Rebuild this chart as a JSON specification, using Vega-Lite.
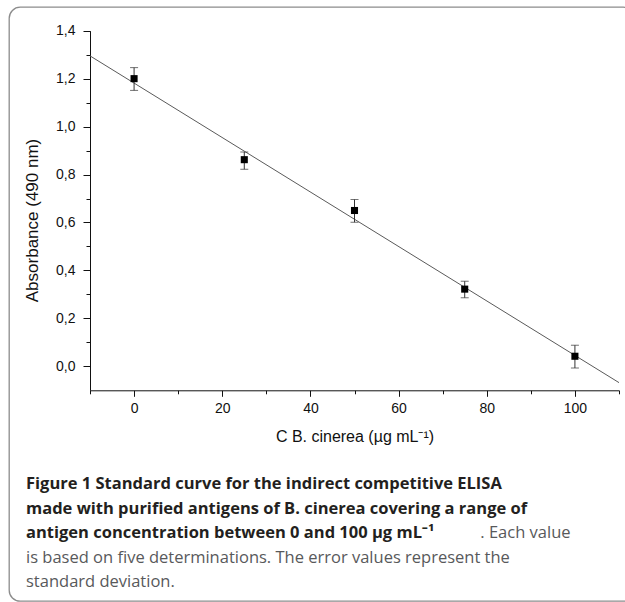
{
  "$schema": "https://vega.github.io/schema/vega-lite/v6.json",
  "autosize": {"type": "none"},
  "padding": {"left": 9, "top": 7, "right": -9, "bottom": 1},
  "width": 625,
  "height": 594,
  "background": "white",
  "config": {
    "view": {"stroke": "#8c8c8c", "strokeWidth": 1.3, "cornerRadius": 11},
    "font": "Liberation Sans"
  },
  "title": {
    "text": ["Figure 1 Standard curve for the indirect competitive ELISA", "made with purified antigens of B. cinerea covering a range of", "antigen concentration between 0 and 100 µg mL⁻¹"],
    "subtitle": ["\u200b\u00a0\u00a0\u00a0\u00a0\u00a0\u00a0\u00a0\u00a0\u00a0\u00a0\u00a0\u00a0\u00a0\u00a0\u00a0\u00a0\u00a0\u00a0\u00a0\u00a0\u00a0\u00a0\u00a0\u00a0\u00a0\u00a0\u00a0\u00a0\u00a0\u00a0\u00a0\u00a0\u00a0\u00a0\u00a0\u00a0\u00a0\u00a0\u00a0\u00a0\u00a0\u00a0\u00a0\u00a0\u00a0\u00a0\u00a0\u00a0\u00a0\u00a0\u00a0\u00a0\u00a0\u00a0\u00a0\u00a0\u00a0\u00a0\u00a0\u00a0\u00a0\u00a0\u00a0\u00a0\u00a0\u00a0\u00a0\u00a0\u00a0\u00a0\u00a0\u00a0\u00a0\u00a0\u00a0\u00a0\u00a0\u00a0\u00a0\u00a0\u00a0\u00a0\u00a0\u00a0\u00a0\u00a0\u00a0\u00a0\u00a0\u00a0\u00a0\u00a0\u00a0\u00a0\u00a0\u00a0\u00a0\u00a0\u00a0\u00a0\u00a0\u00a0\u00a0\u00a0\u00a0\u00a0. Each value", "is based on five determinations. The error values represent the", "standard deviation."],
    "orient": "bottom",
    "anchor": "start",
    "frame": "group",
    "offset": -112,
    "dx": 17,
    "baseline": "alphabetic",
    "font": "Open Sans",
    "fontSize": 16.5,
    "fontWeight": "bold",
    "color": "#231f20",
    "lineHeight": 24.5,
    "subtitleFont": "Open Sans",
    "subtitleFontSize": 16.5,
    "subtitleFontWeight": "normal",
    "subtitleColor": "#58595b",
    "subtitleLineHeight": 24.5,
    "subtitlePadding": -16.5
  },
  "datasets": {
    "points": [
      {"conc": 0, "abs": 1.2, "lo": 1.151, "hi": 1.246},
      {"conc": 25, "abs": 0.862, "lo": 0.822, "hi": 0.894},
      {"conc": 50, "abs": 0.65, "lo": 0.601, "hi": 0.696},
      {"conc": 75, "abs": 0.322, "lo": 0.286, "hi": 0.355},
      {"conc": 100, "abs": 0.042, "lo": -0.007, "hi": 0.088}
    ],
    "fit": [
      {"conc": -10, "abs": 1.295},
      {"conc": 110, "abs": -0.068}
    ]
  },
  "layer": [
    {
      "data": {"name": "fit"},
      "mark": {"type": "line", "color": "#5a5a5a", "strokeWidth": 1},
      "encoding": {
        "x": {
          "field": "conc", "type": "quantitative",
          "scale": {"domain": [-10, 110], "range": [81, 610], "nice": false, "zero": false},
          "axis": {
            "orient": "bottom",
            "offset": -210.7,
            "values": [-10, 0, 10, 20, 30, 40, 50, 60, 70, 80, 90, 100, 110],
            "labelExpr": "datum.value % 20 === 0 ? format(datum.value, 'd') : ''",
            "tickSize": {"condition": {"test": "datum.value % 20 === 0", "value": 6}, "value": 3.5},
            "labelPadding": 5,
            "labelFlush": false,
            "labelOverlap": false,
            "labelFontSize": 14,
            "labelColor": "#111",
            "domainColor": "#111",
            "tickColor": "#111",
            "grid": false,
            "title": "C B. cinerea (µg mL⁻¹)",
            "titleFontSize": 16,
            "titleFontWeight": "normal",
            "titleColor": "#111",
            "titlePadding": 13
          }
        },
        "y": {
          "field": "abs", "type": "quantitative",
          "scale": {"domain": [-0.1, 1.4], "range": [383.3, 23.7], "nice": false, "zero": false},
          "axis": {
            "orient": "left",
            "offset": -81,
            "values": [0, 0.1, 0.2, 0.3, 0.4, 0.5, 0.6, 0.7, 0.8, 0.9, 1.0, 1.1, 1.2, 1.3, 1.4],
            "labelExpr": "round(datum.value * 10) % 2 === 0 ? replace(format(datum.value, '.1f'), '.', ',') : ''",
            "tickSize": {"condition": {"test": "round(datum.value * 10) % 2 === 0", "value": 7}, "value": 4},
            "labelPadding": 8,
            "labelFlush": false,
            "labelOverlap": false,
            "labelFontSize": 14,
            "labelColor": "#111",
            "domainColor": "#111",
            "tickColor": "#111",
            "grid": false,
            "title": "Absorbance (490 nm)",
            "titleFontSize": 17,
            "titleFontWeight": "normal",
            "titleColor": "#111",
            "titlePadding": 14,
            "titleY": 213
          }
        }
      }
    },
    {
      "data": {"name": "points"},
      "mark": {"type": "rule", "color": "#333", "strokeWidth": 1},
      "encoding": {
        "x": {"field": "conc", "type": "quantitative"},
        "y": {"field": "lo", "type": "quantitative"},
        "y2": {"field": "hi"}
      }
    },
    {
      "data": {"name": "points"},
      "mark": {"type": "tick", "orient": "horizontal", "color": "#333", "size": 8, "thickness": 1},
      "encoding": {
        "x": {"field": "conc", "type": "quantitative"},
        "y": {"field": "lo", "type": "quantitative"}
      }
    },
    {
      "data": {"name": "points"},
      "mark": {"type": "tick", "orient": "horizontal", "color": "#333", "size": 8, "thickness": 1},
      "encoding": {
        "x": {"field": "conc", "type": "quantitative"},
        "y": {"field": "hi", "type": "quantitative"}
      }
    },
    {
      "data": {"name": "points"},
      "mark": {"type": "point", "shape": "square", "filled": true, "color": "#000", "size": 50, "opacity": 1},
      "encoding": {
        "x": {"field": "conc", "type": "quantitative"},
        "y": {"field": "abs", "type": "quantitative"}
      }
    }
  ]
}
